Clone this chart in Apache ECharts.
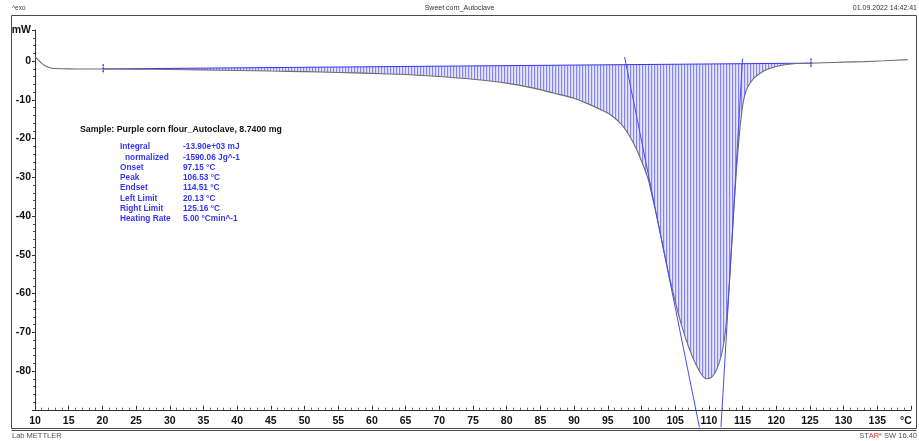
<!DOCTYPE html>
<html>
<head>
<meta charset="utf-8">
<script src="https://cdn.jsdelivr.net/npm/echarts@6/dist/echarts.min.js"></script>
<style>
  html, body { margin: 0; padding: 0; background: #fff; }
  #chart { width: 919px; height: 441px; }
</style>
</head>
<body>
<div id="chart"></div>
<script>
// DSC heat-flow trace (mW) versus temperature (°C)
const temperature = [
  10.0, 10.5, 11.0, 11.5, 12.0, 12.5, 13.0, 14.0, 16.0, 20.13,
  25.0, 30.0, 35.0, 40.0, 45.0, 50.0, 55.0, 60.0, 65.0, 70.0,
  75.0, 80.0, 84.0, 87.0, 90.0, 92.0, 94.0, 95.5, 97.0, 98.0,
  99.0, 100.0, 101.0, 101.5, 102.0, 102.5, 103.0, 103.5, 104.0, 105.0,
  106.0, 107.0, 108.0, 108.7, 109.2, 109.65, 110.4, 111.0, 111.6, 112.1,
  112.5, 112.9, 113.3, 113.7, 114.1, 114.5, 114.9, 115.3, 115.8, 116.6,
  117.5, 118.6, 120.0, 121.5, 123.0, 125.16, 127.0, 130.0, 133.0, 136.0,
  139.5
];
const heatFlow = [
  1.1, 0.2, -0.6, -1.2, -1.6, -1.85, -1.95, -2.0, -2.05, -2.05,
  -2.1, -2.2, -2.3, -2.45, -2.6, -2.75, -2.95, -3.2, -3.5, -4.0,
  -4.7, -5.7, -7.0, -8.3, -9.6, -11.0, -12.6, -14.0, -16.3, -18.7,
  -21.8, -25.8, -30.5, -34.2, -38.0, -42.0, -46.3, -50.5, -54.6, -62.0,
  -68.5, -73.8, -78.0, -80.3, -81.5, -82.0, -81.6, -80.2, -77.5, -74.0,
  -69.0, -61.0, -50.0, -38.5, -28.0, -19.5, -13.0, -9.0, -6.6, -4.6,
  -3.3, -2.2, -1.4, -0.9, -0.65, -0.55, -0.45, -0.3, -0.15, 0.05,
  0.35
];

// integration limits and the straight baseline joining them
const limitT = [20.13, 125.16];
const limitMW = [-2.05, -0.55];

// onset / endset tangents
const onsetTangentT = [97.5, 108.6];
const onsetTangentMW = [1.0, -94.5];
const endsetTangentT = [115.0, 111.8];
const endsetTangentMW = [0.6, -94.5];

// axes
const xMin = 10, xMax = 140, xStep = 5, xUnit = '°C';
const yMin = -90, yMax = 8, yStep = 10, yUnit = 'mW';

// evaluation results
const sampleLine = 'Sample: Purple corn flour_Autoclave, 8.7400 mg';
const resultNames = ['Integral', '  normalized', 'Onset', 'Peak', 'Endset', 'Left Limit', 'Right Limit', 'Heating Rate'];
const resultValues = ['-13.90e+03 mJ', '-1590.06 Jg^-1', '97.15 °C', '106.53 °C', '114.51 °C', '20.13 °C', '125.16 °C', '5.00 °Cmin^-1'];

const FONT = '"Liberation Sans", Arial, sans-serif';
const BLUE = '#3535f5';

// vertical hatch pattern for the integrated peak area
function hatchPattern() {
  const c = document.createElement('canvas');
  c.width = 3; c.height = 4;
  const g = c.getContext('2d');
  g.fillStyle = '#d6d6fd'; g.fillRect(0, 0, 3, 4);
  g.fillStyle = '#e6e6fe'; g.fillRect(2, 0, 1, 4);
  g.fillStyle = '#8484f6'; g.fillRect(0, 0, 1, 4);
  return { image: c, repeat: 'repeat' };
}
const hatch = hatchPattern();

const curveData = temperature.map((t, i) => [t, heatFlow[i]]);
const pair = (ts, vs) => ts.map((t, i) => [t, vs[i]]);

const chart = echarts.init(document.getElementById('chart'), null, { renderer: 'canvas' });

const graphics = [
  { type: 'rect', shape: { x: 11.5, y: 15.5, width: 905, height: 413 }, style: { fill: null, stroke: '#4a4a4a', lineWidth: 1 }, silent: true },
  { type: 'line', shape: { x1: 11.5, y1: 430.5, x2: 916.5, y2: 430.5 }, style: { stroke: '#4a4a4a', lineWidth: 1 }, silent: true },
  { type: 'text', left: 12, top: 5, style: { text: '^exo', font: '6.5px ' + FONT, fill: '#444' } },
  { type: 'text', left: 'center', top: 5, style: { text: 'Sweet corn_Autoclave', font: '7px ' + FONT, fill: '#333' } },
  { type: 'text', right: 2, top: 5, style: { text: '01.09.2022 14:42:41', font: '7px ' + FONT, fill: '#333' } },
  { type: 'text', left: 12, top: 432, style: { text: 'Lab METTLER', font: '7.5px ' + FONT, fill: '#555' } },
  { type: 'text', right: 2, top: 432, style: {
      text: '{a|ST}{b|AR}{c|e}{a| SW 16.40}',
      rich: {
        a: { font: '7.5px ' + FONT, fill: '#555' },
        b: { font: '7.5px ' + FONT, fill: '#e03030' },
        c: { font: '5px ' + FONT, fill: '#e03030', verticalAlign: 'top' }
      }
  } },
  { type: 'text', left: 80, top: 125, style: { text: sampleLine, font: 'bold 8.8px ' + FONT, fill: '#111' } }
];
resultNames.forEach((name, i) => {
  const y = 143 + i * 10.3;
  graphics.push({ type: 'text', left: name.startsWith('  ') ? 125 : 120, top: y, style: { text: name.trim(), font: 'bold 8.3px ' + FONT, fill: BLUE } });
  graphics.push({ type: 'text', left: 183, top: y, style: { text: resultValues[i], font: 'bold 8.3px ' + FONT, fill: BLUE } });
});

const option = {
  animation: false,
  backgroundColor: '#fff',
  grid: { left: 35, right: 8, top: 30, bottom: 31.25, containLabel: false },
  xAxis: {
    type: 'value', min: xMin, max: xMax, interval: xStep,
    axisLine: { show: true, onZero: false, lineStyle: { color: '#333', width: 1 } },
    axisTick: { show: true, inside: true, length: 4, lineStyle: { color: '#333' } },
    minorTick: { show: true, splitNumber: 5, length: 2, lineStyle: { color: '#555' } },
    splitLine: { show: false },
    axisLabel: {
      margin: 6, color: '#111', fontFamily: FONT, fontWeight: 'bold', fontSize: 10.5,
      showMinLabel: true, showMaxLabel: true,
      formatter: v => v === xMax ? '{u|' + xUnit + '}' : String(v),
      rich: { u: { fontFamily: FONT, fontWeight: 'bold', fontSize: 10.5, color: '#111', padding: [0, 10, 0, 0] } }
    }
  },
  yAxis: {
    type: 'value', min: yMin, max: yMax, interval: yStep,
    axisLine: { show: true, onZero: false, lineStyle: { color: '#333', width: 1 } },
    axisTick: { show: true, inside: false, length: 3, lineStyle: { color: '#333' } },
    minorTick: { show: true, splitNumber: 5, length: 2, lineStyle: { color: '#555' } },
    splitLine: { show: false },
    axisLabel: {
      margin: 4, color: '#111', fontFamily: FONT, fontWeight: 'bold', fontSize: 10.5,
      showMinLabel: true, showMaxLabel: true,
      formatter: v => v === yMax ? yUnit : (v === yMin ? '' : String(v))
    }
  },
  series: [
    {
      // hatched area between baseline and curve
      type: 'custom', coordinateSystem: 'cartesian2d', clip: true, silent: true,
      data: [[limitT[0], limitMW[0]]],
      renderItem: (params, api) => {
        const pts = [];
        temperature.forEach((t, i) => {
          if (t >= limitT[0] && t <= limitT[1]) pts.push(api.coord([t, heatFlow[i]]));
        });
        pts.push(api.coord([limitT[1], limitMW[1]]));
        pts.push(api.coord([limitT[0], limitMW[0]]));
        return { type: 'polygon', shape: { points: pts, smooth: 0 }, style: { fill: hatch, stroke: null } };
      },
      z: 1
    },
    {
      type: 'line', data: pair(limitT, limitMW), showSymbol: false, silent: true,
      lineStyle: { color: BLUE, width: 1 }, z: 3
    },
    {
      type: 'line', data: curveData, showSymbol: false, smooth: 0.2, silent: true,
      lineStyle: { color: '#6e6e6e', width: 1.1 }, z: 4
    },
    {
      type: 'line', data: pair(onsetTangentT, onsetTangentMW), showSymbol: false, clip: false, silent: true,
      lineStyle: { color: '#4a4af8', width: 1 }, z: 5
    },
    {
      type: 'line', data: pair(endsetTangentT, endsetTangentMW), showSymbol: false, clip: false, silent: true,
      lineStyle: { color: '#4a4af8', width: 1 }, z: 5
    },
    {
      type: 'line', data: [[limitT[0], limitMW[0] + 1.2], [limitT[0], limitMW[0] - 1.2]], showSymbol: false, silent: true,
      lineStyle: { color: BLUE, width: 1.5, type: [2, 1] }, z: 6
    },
    {
      type: 'line', data: [[limitT[1], limitMW[1] + 1.2], [limitT[1], limitMW[1] - 1.2]], showSymbol: false, silent: true,
      lineStyle: { color: BLUE, width: 1.5, type: [2, 1] }, z: 6
    }
  ],
  graphic: graphics
};

chart.setOption(option);
</script>
</body>
</html>
